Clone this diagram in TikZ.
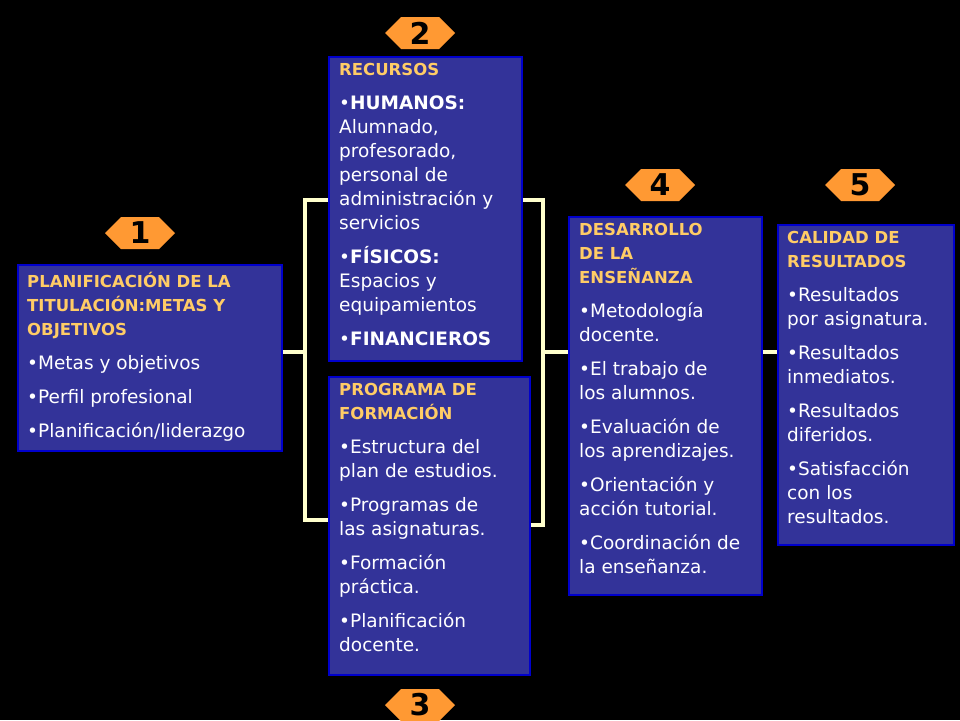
\documentclass[tikz,border=0pt]{standalone}
\usepackage{fontspec}
\setmainfont{DejaVu Sans}
\usetikzlibrary{positioning,shapes.symbols}
\definecolor{boxblue}{HTML}{333399}
\definecolor{boxline}{HTML}{0000CC}
\definecolor{titleorange}{HTML}{FFCC66}
\definecolor{badge}{HTML}{FF9933}
\definecolor{wire}{HTML}{FFFFCC}
\newcommand{\ttlline}[1]{\textcolor{titleorange}{\fontsize{16.5}{22}\selectfont\bfseries #1}}
\begin{document}
\begin{tikzpicture}[x=1pt, y=-1pt,
box/.style = {draw=boxline, line width=1.5pt, fill=boxblue, rectangle, anchor=north west, inner sep=0pt},
txt/.style = {anchor=north west, align=left, text=white, font=\fontsize{18.5}{24}\selectfont, inner sep=0pt},
num/.style = {signal, signal to=west and east, fill=badge, minimum width=70pt, minimum height=32pt, inner sep=0pt, font=\fontsize{30}{30}\selectfont\bfseries},
wire/.style = {draw=wire, line width=4pt}]
    \fill[black] (0,0) rectangle (960,720);
    \useasboundingbox (0,0) rectangle (960,720);
    % boxes
    \node [box, minimum width=264pt, minimum height=186pt] (B1) at (17,264) {};
    \node [box, minimum width=193pt, minimum height=304pt] (B2) at (328,56) {};
    \node [box, minimum width=201pt, minimum height=298pt] (B3) at (328,376) {};
    \node [box, minimum width=193pt, minimum height=378pt] (B4) at (568,216) {};
    \node [box, minimum width=176pt, minimum height=320pt] (B5) at (777,224) {};
    % texts
    \node [txt] (T1) at (27,272) {\ttlline{PLANIFICACIÓN DE LA}\\ \ttlline{TITULACIÓN:METAS Y}\\ \ttlline{OBJETIVOS}\\[10pt]
        •Metas y objetivos\\[10pt] •Perfil profesional\\[10pt] •Planificación/liderazgo};
    \node [txt] (T2) at (339,63) {\ttlline{RECURSOS}\\[10pt]
        •\textbf{HUMANOS:}\\ Alumnado,\\ profesorado,\\ personal de\\ administración y\\ servicios\\[10pt]
        •\textbf{FÍSICOS:}\\ Espacios y\\ equipamientos\\[10pt] •\textbf{FINANCIEROS}};
    \node [txt] (T3) at (339,383) {\ttlline{PROGRAMA DE}\\ \ttlline{FORMACIÓN}\\[10pt]
        •Estructura del\\ plan de estudios.\\[10pt] •Programas de\\ las asignaturas.\\[10pt]
        •Formación\\ práctica.\\[10pt] •Planificación\\ docente.};
    \node [txt] (T4) at (579,223) {\ttlline{DESARROLLO}\\ \ttlline{DE LA}\\ \ttlline{ENSEÑANZA}\\[10pt]
        •Metodología\\ docente.\\[10pt] •El trabajo de\\ los alumnos.\\[10pt] •Evaluación de\\ los aprendizajes.\\[10pt]
        •Orientación y\\ acción tutorial.\\[10pt] •Coordinación de\\ la enseñanza.};
    \node [txt] (T5) at (787,231) {\ttlline{CALIDAD DE}\\ \ttlline{RESULTADOS}\\[10pt]
        •Resultados\\ por asignatura.\\[10pt] •Resultados\\ inmediatos.\\[10pt] •Resultados\\ diferidos.\\[10pt]
        •Satisfacción\\ con los\\ resultados.};
    % badges
    \node [num] (N1) at (140,233) {1};
    \node [num] (N2) at (420,33) {2};
    \node [num] (N3) at (420,705) {3};
    \node [num] (N4) at (660,185) {4};
    \node [num] (N5) at (860,185) {5};
    % connectors
    \coordinate (L1) at (305,200);
    \coordinate (L2) at (305,520);
    \coordinate (R1) at (543,200);
    \coordinate (R2) at (543,525);
    \coordinate (M1) at (305,352);
    \coordinate (M2) at (543,352);
    \path [wire] (B1.east |- M1) -- (M1)
                 (L1 -| B2.west) -- (L1) -- (L2) -- (L2 -| B3.west)
                 (R1 -| B2.east) -- (R1) -- (R2) -- (R2 -| B3.east)
                 (M2) -- (B4.west |- M2)
                 (B4.east |- M2) -- (B5.west |- M2);
\end{tikzpicture}
\end{document}
